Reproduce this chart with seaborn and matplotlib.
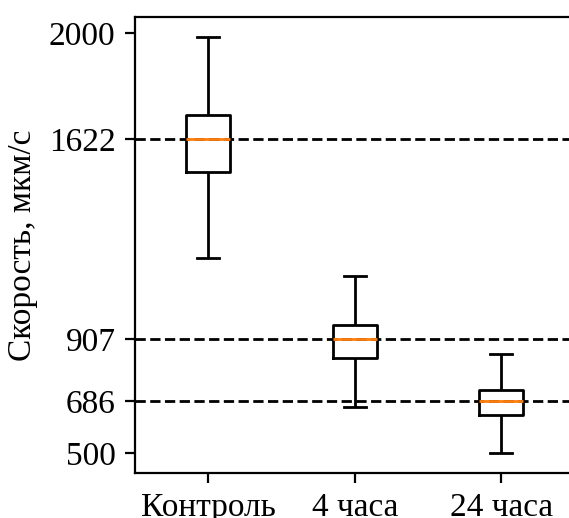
import numpy as np
import pandas as pd
import matplotlib
matplotlib.use("Agg")
import matplotlib.pyplot as plt
import seaborn as sns

categories = ["Контроль", "4 часа", "24 часа"]
control = [1198, 1504, 1622, 1707, 1984]
h4 = [663, 839, 907, 959, 1133]
h24 = [502, 635, 686, 724, 855]
ref_lines = [1622, 907, 686]
yticks = [500, 686, 907, 1622, 2000]
ylabel = "Скорость, мкм/с"

plt.rcParams['font.family'] = ['Liberation Serif', 'DejaVu Serif']
plt.rcParams['font.size'] = 12

df = pd.DataFrame({
    "group": [categories[0]] * len(control) + [categories[1]] * len(h4) + [categories[2]] * len(h24),
    "value": control + h4 + h24,
})

fig = plt.figure(figsize=(569 / 200, 518 / 200), dpi=200)
ax = fig.add_axes([135 / 569, (518 - 473.3) / 518, 439.5 / 569, 456.6 / 518])

sns.boxplot(data=df, x="group", y="value", order=categories, ax=ax,
            whis=(0, 100), width=0.3, fill=False, color="black",
            linewidth=1.0,
            medianprops={"color": "#ff7f0e", "linewidth": 1.0},
            capwidths=0.15)

for v in ref_lines:
    ax.axhline(v, color="black", linestyle="--", linewidth=1.0)

ax.set_yticks(yticks)
ax.set_yticklabels([str(t) for t in yticks])
ax.set_xlabel("")
ax.set_ylabel(ylabel)
ax.set_xlim(-0.5, 2.5)

fig.savefig("out.png", dpi=200)
